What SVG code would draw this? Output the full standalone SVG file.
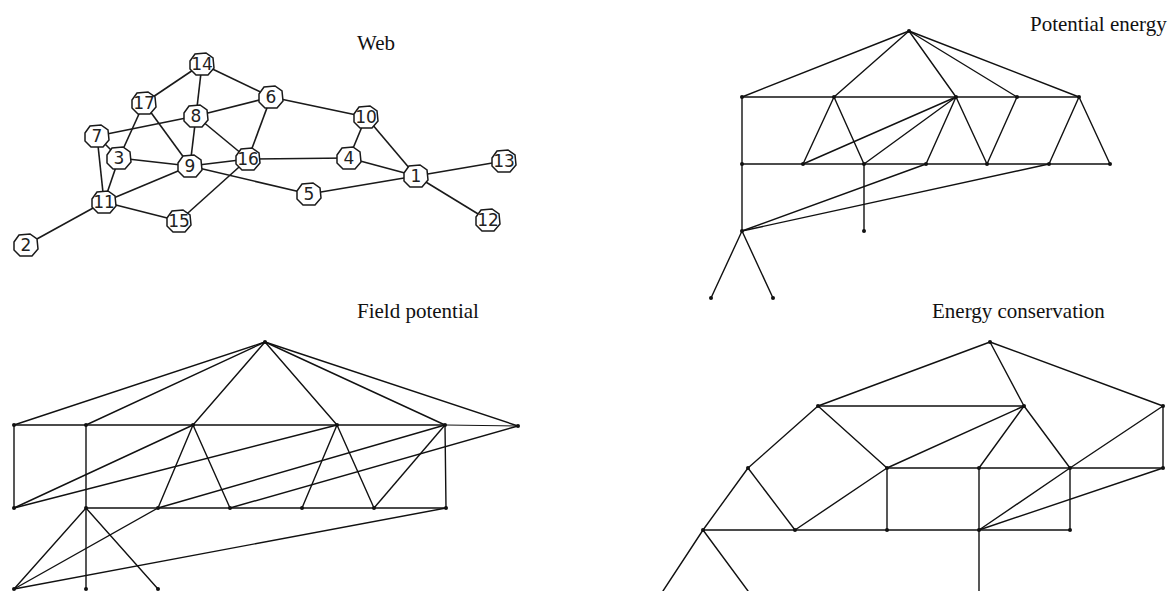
<svg xmlns="http://www.w3.org/2000/svg" xmlns:xlink="http://www.w3.org/1999/xlink" width="1169" height="591" viewBox="0 0 1169 591">
<style>
.ln{stroke:#111;stroke-width:1.4;fill:none;stroke-linecap:round}
.we{stroke:#1a1a1a;stroke-width:1.6;fill:none}
.nd{fill:#fff;stroke:#1a1a1a;stroke-width:1.5}
.nt{font-family:"DejaVu Sans","Liberation Sans",sans-serif;font-size:17px;fill:#222;text-anchor:middle}
.lb{font-family:"Liberation Serif","Times New Roman",serif;font-size:21px;fill:#111}
.dt{fill:#111}
</style>
<defs>
<polygon id="oct" points="-12,-3 -7,-10 4,-11 11,-6 12,4 6,11 -6,11 -12,5"/>
<circle id="d" r="2"/>
</defs>
<rect width="1169" height="591" fill="#fff"/>

<text class="lb" x="357" y="50">Web</text>
<text class="lb" x="1030" y="31">Potential energy</text>
<text class="lb" x="357" y="318">Field potential</text>
<text class="lb" x="932" y="318">Energy conservation</text>

<g id="web-connectors" class="we">
<line x1="202" y1="64" x2="144" y2="103"/>
<line x1="202" y1="64" x2="196" y2="116"/>
<line x1="202" y1="64" x2="271" y2="97"/>
<line x1="144" y1="103" x2="119" y2="158"/>
<line x1="144" y1="103" x2="190" y2="166"/>
<line x1="196" y1="116" x2="271" y2="97"/>
<line x1="196" y1="116" x2="97" y2="136"/>
<line x1="196" y1="116" x2="190" y2="166"/>
<line x1="196" y1="116" x2="248" y2="159"/>
<line x1="271" y1="97" x2="248" y2="159"/>
<line x1="271" y1="97" x2="366" y2="117"/>
<line x1="97" y1="136" x2="119" y2="158"/>
<line x1="97" y1="136" x2="104" y2="202"/>
<line x1="119" y1="158" x2="190" y2="166"/>
<line x1="119" y1="158" x2="104" y2="202"/>
<line x1="190" y1="166" x2="248" y2="159"/>
<line x1="190" y1="166" x2="104" y2="202"/>
<line x1="190" y1="166" x2="309" y2="194"/>
<line x1="248" y1="159" x2="179" y2="221"/>
<line x1="248" y1="159" x2="349" y2="158"/>
<line x1="104" y1="202" x2="179" y2="221"/>
<line x1="104" y1="202" x2="26" y2="245"/>
<line x1="366" y1="117" x2="349" y2="158"/>
<line x1="366" y1="117" x2="416" y2="176"/>
<line x1="349" y1="158" x2="416" y2="176"/>
<line x1="309" y1="194" x2="416" y2="176"/>
<line x1="416" y1="176" x2="504" y2="161"/>
<line x1="416" y1="176" x2="488" y2="220"/>
</g>

<g id="n1"><use href="#oct" class="nd" x="416" y="176"/><text class="nt" x="416" y="182">1</text></g>
<g id="n2"><use href="#oct" class="nd" x="26" y="245"/><text class="nt" x="26" y="251">2</text></g>
<g id="n3"><use href="#oct" class="nd" x="119" y="158"/><text class="nt" x="119" y="164">3</text></g>
<g id="n4"><use href="#oct" class="nd" x="349" y="158"/><text class="nt" x="349" y="164">4</text></g>
<g id="n5"><use href="#oct" class="nd" x="309" y="194"/><text class="nt" x="309" y="200">5</text></g>
<g id="n6"><use href="#oct" class="nd" x="271" y="97"/><text class="nt" x="271" y="103">6</text></g>
<g id="n7"><use href="#oct" class="nd" x="97" y="136"/><text class="nt" x="97" y="142">7</text></g>
<g id="n8"><use href="#oct" class="nd" x="196" y="116"/><text class="nt" x="196" y="122">8</text></g>
<g id="n9"><use href="#oct" class="nd" x="190" y="166"/><text class="nt" x="190" y="172">9</text></g>
<g id="n10"><use href="#oct" class="nd" x="366" y="117"/><text class="nt" x="366" y="123">10</text></g>
<g id="n11"><use href="#oct" class="nd" x="104" y="202"/><text class="nt" x="104" y="208">11</text></g>
<g id="n12"><use href="#oct" class="nd" x="488" y="220"/><text class="nt" x="488" y="226">12</text></g>
<g id="n13"><use href="#oct" class="nd" x="504" y="161"/><text class="nt" x="504" y="167">13</text></g>
<g id="n14"><use href="#oct" class="nd" x="202" y="64"/><text class="nt" x="202" y="70">14</text></g>
<g id="n15"><use href="#oct" class="nd" x="179" y="221"/><text class="nt" x="179" y="227">15</text></g>
<g id="n16"><use href="#oct" class="nd" x="248" y="159"/><text class="nt" x="248" y="165">16</text></g>
<g id="n17"><use href="#oct" class="nd" x="144" y="103"/><text class="nt" x="144" y="109">17</text></g>

<g id="potential-energy-connectors" class="ln">
<line x1="909" y1="31" x2="742" y2="97"/>
<line x1="909" y1="31" x2="834" y2="97"/>
<line x1="909" y1="31" x2="956" y2="97"/>
<line x1="909" y1="31" x2="1017" y2="97"/>
<line x1="909" y1="31" x2="1079" y2="97"/>
<line x1="742" y1="97" x2="1079" y2="97"/>
<line x1="742" y1="97" x2="742" y2="231"/>
<line x1="742" y1="164" x2="1110" y2="164"/>
<line x1="834" y1="97" x2="803" y2="164"/>
<line x1="834" y1="97" x2="864" y2="164"/>
<line x1="803" y1="164" x2="956" y2="97"/>
<line x1="864" y1="164" x2="956" y2="97"/>
<line x1="956" y1="97" x2="926" y2="164"/>
<line x1="956" y1="97" x2="987" y2="164"/>
<line x1="1017" y1="97" x2="987" y2="164"/>
<line x1="1079" y1="97" x2="1049" y2="164"/>
<line x1="1079" y1="97" x2="1110" y2="164"/>
<line x1="742" y1="231" x2="926" y2="164"/>
<line x1="742" y1="231" x2="1049" y2="164"/>
<line x1="864" y1="164" x2="864" y2="231"/>
<line x1="742" y1="231" x2="711" y2="298"/>
<line x1="742" y1="231" x2="773" y2="298"/>
</g>
<g id="potential-energy-points" class="dt">
<use href="#d" x="909" y="31"/><use href="#d" x="742" y="97"/><use href="#d" x="834" y="97"/><use href="#d" x="956" y="97"/><use href="#d" x="1017" y="97"/><use href="#d" x="1079" y="97"/>
<use href="#d" x="742" y="164"/><use href="#d" x="803" y="164"/><use href="#d" x="864" y="164"/><use href="#d" x="926" y="164"/><use href="#d" x="987" y="164"/><use href="#d" x="1049" y="164"/><use href="#d" x="1110" y="164"/>
<use href="#d" x="742" y="231"/><use href="#d" x="864" y="231"/><use href="#d" x="711" y="298"/><use href="#d" x="773" y="298"/>
</g>

<g id="field-potential-connectors" class="ln">
<line x1="265" y1="342" x2="14" y2="425"/>
<line x1="265" y1="342" x2="86" y2="425"/>
<line x1="265" y1="342" x2="193" y2="425"/>
<line x1="265" y1="342" x2="337" y2="425"/>
<line x1="265" y1="342" x2="445" y2="425"/>
<line x1="265" y1="342" x2="518" y2="426"/>
<line x1="14" y1="425" x2="445" y2="425"/>
<line x1="445" y1="425" x2="518" y2="426" stroke-width="1"/>
<line x1="14" y1="425" x2="14" y2="508"/>
<line x1="86" y1="425" x2="86" y2="589"/>
<line x1="445" y1="425" x2="446" y2="508"/>
<line x1="86" y1="508" x2="446" y2="508"/>
<line x1="193" y1="425" x2="158" y2="508"/>
<line x1="193" y1="425" x2="230" y2="508"/>
<line x1="337" y1="425" x2="302" y2="508"/>
<line x1="337" y1="425" x2="374" y2="508"/>
<line x1="445" y1="425" x2="374" y2="508"/>
<line x1="14" y1="508" x2="193" y2="425"/>
<line x1="14" y1="508" x2="337" y2="425"/>
<line x1="158" y1="508" x2="445" y2="425"/>
<line x1="230" y1="508" x2="518" y2="426"/>
<line x1="14" y1="589" x2="86" y2="508"/>
<line x1="86" y1="508" x2="158" y2="589"/>
<line x1="14" y1="589" x2="158" y2="508"/>
<line x1="14" y1="589" x2="446" y2="508"/>
</g>
<g id="field-potential-points" class="dt">
<use href="#d" x="265" y="342"/><use href="#d" x="14" y="425"/><use href="#d" x="86" y="425"/><use href="#d" x="193" y="425"/><use href="#d" x="337" y="425"/><use href="#d" x="445" y="425"/><use href="#d" x="518" y="426"/>
<use href="#d" x="14" y="508"/><use href="#d" x="86" y="508"/><use href="#d" x="158" y="508"/><use href="#d" x="230" y="508"/><use href="#d" x="302" y="508"/><use href="#d" x="374" y="508"/><use href="#d" x="446" y="508"/>
<use href="#d" x="14" y="589"/><use href="#d" x="86" y="589"/><use href="#d" x="158" y="589"/>
</g>

<g id="energy-conservation-connectors" class="ln">
<line x1="990" y1="342" x2="818" y2="406"/>
<line x1="990" y1="342" x2="1024" y2="406"/>
<line x1="990" y1="342" x2="1163" y2="406"/>
<line x1="818" y1="406" x2="1024" y2="406"/>
<line x1="818" y1="406" x2="748" y2="468"/>
<line x1="818" y1="406" x2="887" y2="468"/>
<line x1="748" y1="468" x2="703" y2="530"/>
<line x1="748" y1="468" x2="795" y2="530"/>
<line x1="887" y1="468" x2="795" y2="530"/>
<line x1="887" y1="468" x2="1024" y2="406"/>
<line x1="887" y1="468" x2="1163" y2="468"/>
<line x1="887" y1="468" x2="887" y2="530"/>
<line x1="703" y1="530" x2="1070" y2="530"/>
<line x1="979" y1="468" x2="1024" y2="406"/>
<line x1="979" y1="468" x2="979" y2="591"/>
<line x1="1024" y1="406" x2="1070" y2="468"/>
<line x1="1070" y1="468" x2="1070" y2="530"/>
<line x1="1070" y1="468" x2="1163" y2="406"/>
<line x1="1163" y1="406" x2="1163" y2="468"/>
<line x1="979" y1="530" x2="1070" y2="468"/>
<line x1="979" y1="530" x2="1163" y2="468"/>
<line x1="703" y1="530" x2="663" y2="591"/>
<line x1="703" y1="530" x2="748" y2="591"/>
</g>
<g id="energy-conservation-points" class="dt">
<use href="#d" x="990" y="342"/><use href="#d" x="818" y="406"/><use href="#d" x="1024" y="406"/><use href="#d" x="1163" y="406"/>
<use href="#d" x="748" y="468"/><use href="#d" x="887" y="468"/><use href="#d" x="979" y="468"/><use href="#d" x="1070" y="468"/><use href="#d" x="1163" y="468"/>
<use href="#d" x="703" y="530"/><use href="#d" x="795" y="530"/><use href="#d" x="887" y="530"/><use href="#d" x="979" y="530"/><use href="#d" x="1070" y="530"/>
</g>
</svg>
